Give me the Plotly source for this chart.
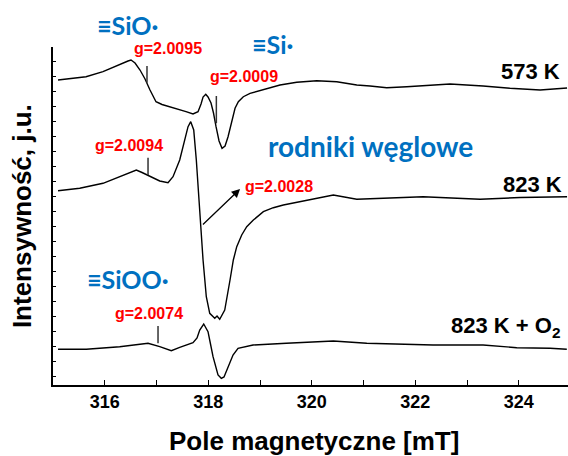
import plotly.graph_objects as go

# Field (mT) and intensity (arbitrary units)
field_573 = [315.097, 315.329, 315.638, 315.966, 316.295, 316.449, 316.507, 316.585, 316.681, 316.778,
             316.874, 316.990, 317.106, 317.261, 317.570, 317.705, 317.802, 317.860, 317.899, 317.951,
             317.995, 318.053, 318.101, 318.150, 318.208, 318.266, 318.324, 318.382, 318.440, 318.473,
             318.517, 318.581, 318.677, 318.807, 319.058, 319.386, 319.709, 320.096, 320.482, 320.869,
             321.126, 321.448, 321.835, 322.285, 322.671, 323.309, 323.580, 323.831, 324.411, 324.932]
int_573 = [305, 306.5, 308.3, 313.3, 321, 324, 325, 322, 315, 306,
           295, 283.3, 280.5, 278.3, 273.3, 271, 273.3, 281, 288, 290.7,
           288, 282, 272, 258.3, 244, 236.7, 239, 248.3, 261, 268.3,
           276.7, 283.3, 288.3, 291.7, 295, 300, 302.7, 304.3, 303.3, 300,
           299, 297.3, 298.3, 300, 301, 299, 297.7, 296.7, 295, 297]

field_823 = [315.097, 315.516, 315.966, 316.289, 316.488, 316.610, 316.720, 316.869, 317.062, 317.222,
             317.319, 317.448, 317.545, 317.609, 317.661, 317.719, 317.769, 317.826, 317.855, 317.899,
             317.962, 318.028, 318.125, 318.169, 318.221, 318.318, 318.420, 318.484, 318.550, 318.646,
             318.743, 318.871, 319.064, 319.257, 319.450, 319.902, 320.416, 320.869, 321.319, 322.150,
             323.251, 324.024, 324.932]
int_823 = [194.3, 196.7, 201.7, 208.3, 213, 215, 212.5, 209, 204, 202.3,
           208.3, 225, 245, 258.3, 263.3, 255, 225, 179, 159, 125,
           88.3, 71.7, 66.7, 69, 65.7, 75, 105, 125, 138.3, 150,
           158.3, 165, 173.3, 177.3, 180, 185, 190, 185.7, 186.7, 188.3,
           185.7, 187.5, 188.3]

field_823_o2 = [315.097, 315.643, 316.289, 316.836, 317.062, 317.286, 317.448, 317.705, 317.783, 317.835,
                317.912, 317.995, 318.043, 318.092, 318.188, 318.252, 318.304, 318.349, 318.478, 318.575,
                318.865, 319.508, 320.024, 320.416, 321.062, 321.705, 322.343, 323.309, 323.960, 324.604,
                324.927]
int_823_o2 = [35.7, 35.7, 38.3, 41.7, 38.3, 34.3, 37.7, 42.3, 47, 55,
              61, 53.3, 41, 28.3, 10, 6.7, 8, 13.3, 30, 36.7,
              40, 41.7, 42.7, 44, 41.7, 40.7, 40, 40, 37.3, 36.7,
              35.7]

# g-value marker lines: field position, lower and upper intensity
marker_field = [316.816, 318.156, 316.836, 317.029]
marker_low = [302.3, 261.7, 210, 41.7]
marker_high = [319, 289, 227.3, 59]

# Labels (x in mT, y in intensity units)
g_labels = ["g=2.0095", "g=2.0009", "g=2.0094", "g=2.0028", "g=2.0074"]
g_label_x = [317.222, 318.691, 316.469, 319.367, 316.855]
g_label_y = [337, 309, 240, 199, 72]

species_labels = ["≡SiO·", "≡Si·", "rodniki węglowe", "≡SiOO·"]
species_x = [316.43, 319.232, 321.126, 316.449]
species_y = [360, 341, 239, 106]
species_size = [25, 25, 28, 25]

temp_labels = ["573 K", "823 K", "823 K + O<sub>2</sub>"]
temp_x = [324.217, 324.256, 323.734]
temp_y = [314, 201, 58]

arrow_tail = (317.868, 159)
arrow_head = (318.614, 196)

x_range = [315, 324.95]
y_range = [0, 338]
x_tickvals = [316, 317, 318, 319, 320, 321, 322, 323, 324]
x_ticktext = ["316", "", "318", "", "320", "", "322", "", "324"]


def px(x):
    return (x - x_range[0]) / (x_range[1] - x_range[0])


def py(y):
    return (y - y_range[0]) / (y_range[1] - y_range[0])


fig = go.Figure()
for fx, iy in [(field_573, int_573), (field_823, int_823), (field_823_o2, int_823_o2)]:
    fig.add_trace(go.Scatter(x=fx, y=iy, mode="lines", line=dict(color="black", width=1.4),
                             showlegend=False, hoverinfo="skip", cliponaxis=False))

mx, my = [], []
for f, lo, hi in zip(marker_field, marker_low, marker_high):
    mx += [f, f, None]
    my += [lo, hi, None]
fig.add_trace(go.Scatter(x=mx, y=my, mode="lines", line=dict(color="#333333", width=1.5),
                         showlegend=False, hoverinfo="skip"))

annotations = []


def label(t, x, y, font):
    annotations.append(dict(x=px(x), y=py(y), xref="paper", yref="paper", text=t, showarrow=False,
                            xanchor="center", yanchor="middle", font=font))


for t, x, y in zip(g_labels, g_label_x, g_label_y):
    label(t, x, y, dict(family="Liberation Sans", size=16, color="#ff0000", weight="bold"))
for t, x, y, s in zip(species_labels, species_x, species_y, species_size):
    label(t, x, y, dict(family="Lato", size=s, color="#0070c0", weight="bold"))
for t, x, y in zip(temp_labels, temp_x, temp_y):
    label(t, x, y, dict(family="Liberation Sans", size=22, color="black", weight="bold"))

annotations.append(dict(x=arrow_head[0], y=arrow_head[1], ax=arrow_tail[0], ay=arrow_tail[1],
                        xref="x", yref="y", axref="x", ayref="y", text="", showarrow=True,
                        arrowhead=2, arrowsize=1.3, arrowwidth=1.3, arrowcolor="black"))
annotations.append(dict(x=0.507, y=-0.165, xref="paper", yref="paper", text="Pole magnetyczne [mT]",
                        showarrow=False, xanchor="center", yanchor="middle",
                        font=dict(family="Liberation Sans", size=26, color="black", weight="bold")))
annotations.append(dict(x=-0.06, y=0.5, xref="paper", yref="paper", text="Intensywność, j.u.",
                        showarrow=False, textangle=-90, xanchor="center", yanchor="middle",
                        font=dict(family="Liberation Sans", size=26, color="black", weight="bold")))

fig.update_layout(
    width=568, height=456,
    margin=dict(l=53, r=0, t=47, b=71),
    paper_bgcolor="white", plot_bgcolor="white",
    annotations=annotations,
    xaxis=dict(range=x_range, tickvals=x_tickvals, ticktext=x_ticktext,
               ticks="inside", ticklen=5, tickwidth=1.3, tickcolor="black",
               showline=True, linecolor="black", linewidth=1.5, showgrid=False, zeroline=False,
               tickfont=dict(family="Liberation Sans", size=18, color="black", weight="bold")),
    xaxis2=dict(range=x_range, overlaying="x", side="top", tickvals=x_tickvals,
                showticklabels=False, ticks="inside", ticklen=2, tickwidth=1, tickcolor="#888888",
                showline=False, showgrid=False, zeroline=False),
    yaxis=dict(range=y_range, tick0=8.3, dtick=15, ticks="inside", ticklen=3, tickwidth=1,
               tickcolor="black", showticklabels=False, showline=True, linecolor="black",
               linewidth=1.5, showgrid=False, zeroline=False),
)

fig.write_html("out.html", config={"displayModeBar": False},
               post_script="document.body.style.margin='0';document.body.style.overflow='hidden';")
